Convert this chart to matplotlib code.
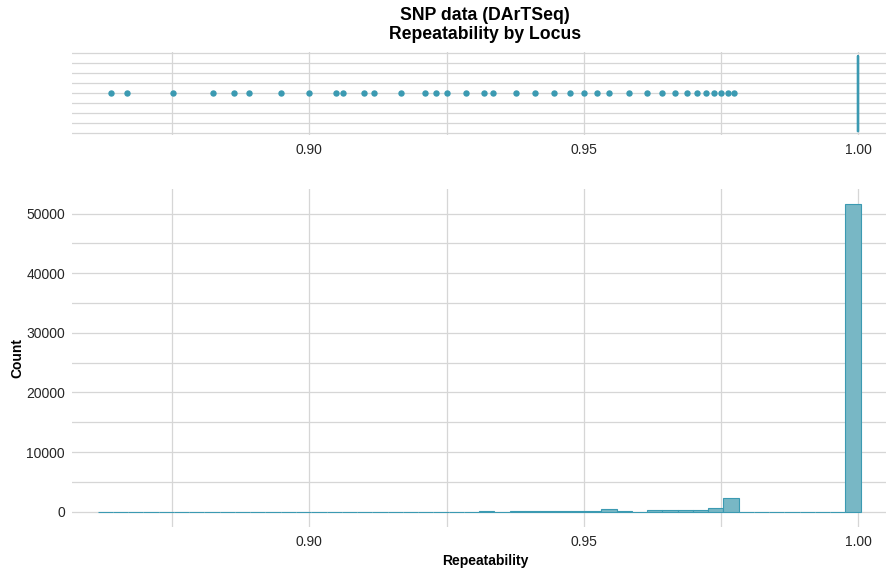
import matplotlib
matplotlib.use("Agg")
import matplotlib.pyplot as plt
import numpy as np

plt.rcParams["font.family"] = ["Liberation Sans", "DejaVu Sans"]

W, H, DPI = 887, 572, 100

# Loci falling outside the whiskers of the repeatability box plot
outlier_values = [
    0.8638, 0.8668, 0.8752, 0.8825, 0.8863, 0.8890, 0.8948, 0.9000,
    0.9048, 0.9062, 0.9100, 0.9117, 0.9167, 0.9211, 0.9231, 0.9250,
    0.9285, 0.9318, 0.9334, 0.9376, 0.9412, 0.9445, 0.9475, 0.9500,
    0.9524, 0.9546, 0.9583, 0.9616, 0.9643, 0.9667, 0.9688, 0.9706,
    0.9722, 0.9738, 0.9750, 0.9762, 0.9774,
]
# Quartiles, median and whiskers all sit at 1.00
box_median = 1.00
box_q1 = 1.00
box_q3 = 1.00
box_whislo = 1.00
box_whishi = 1.00

# Histogram of repeatability (50 bins)
bin_low = 0.86144
bin_high = 1.00044
bin_counts = [
    3, 4, 0, 0, 10, 0, 0, 3, 5, 6,
    0, 0, 8, 12, 0, 8, 9, 10, 10, 12,
    0, 14, 20, 0, 18, 170, 0, 30, 35, 170,
    30, 120, 130, 520, 30, 0, 200, 210, 230, 350,
    560, 2340, 0, 0, 0, 0, 0, 0, 0, 51550,
]

x_major = [0.90, 0.95, 1.00]
x_minor = [0.875, 0.925, 0.975]
x_labels = ["0.90", "0.95", "1.00"]
y_major = [0, 10000, 20000, 30000, 40000, 50000]
y_minor = [5000, 15000, 25000, 35000, 45000]

LINE = "#3B9AB2"
FILL = "#78B7C5"
GRID = "#D6D6D6"
TEXT = "#262626"

x_lim = (0.85678, 1.00723)
PANEL_L, PANEL_R = 72, 898


def px_axes(fig, left, top, right, bottom):
    return fig.add_axes([left / W, 1 - bottom / H, (right - left) / W, (bottom - top) / H])


def style(ax):
    for s in ax.spines.values():
        s.set_visible(False)
    ax.set_facecolor("white")
    ax.set_axisbelow(True)
    ax.grid(True, which="both", color=GRID, linewidth=0.9)
    ax.tick_params(which="both", length=0, labelsize=10, labelcolor=TEXT)
    ax.set_xlim(*x_lim)
    ax.set_xticks(x_major)
    ax.set_xticklabels(x_labels)
    ax.set_xticks(x_minor, minor=True)


fig = plt.figure(figsize=(W / DPI, H / DPI), dpi=DPI)
fig.patch.set_facecolor("white")

# Box plot panel
ax1 = px_axes(fig, PANEL_L, 52, PANEL_R, 134.5)
stats = [dict(med=box_median, q1=box_q1, q3=box_q3,
              whislo=box_whislo, whishi=box_whishi, fliers=outlier_values)]
ax1.bxp(stats, positions=[0], widths=0.75, orientation="horizontal",
        showcaps=False, manage_ticks=False,
        boxprops=dict(color=LINE, linewidth=1.6),
        medianprops=dict(color=LINE, linewidth=1.6),
        whiskerprops=dict(color=LINE, linewidth=1.0),
        flierprops=dict(marker="o", markerfacecolor=LINE, markeredgecolor=LINE,
                        markersize=3.6, linestyle="none"))
style(ax1)
ax1.set_ylim(-0.4125, 0.4125)
ax1.set_yticks(np.arange(-0.4, 0.41, 0.2))
ax1.set_yticks(np.arange(-0.3, 0.31, 0.2), minor=True)
ax1.set_yticklabels([])
ax1.tick_params(axis="x", pad=6)

# Histogram panel
ax2 = px_axes(fig, PANEL_L, 189, PANEL_R, 527)
edges = np.linspace(bin_low, bin_high, len(bin_counts) + 1)
centers = (edges[:-1] + edges[1:]) / 2
ax2.hist(centers, bins=edges, weights=bin_counts,
         facecolor=FILL, edgecolor=LINE, linewidth=0.8)
style(ax2)
ax2.set_ylim(-2578, 54133)
ax2.set_yticks(y_major)
ax2.set_yticks(y_minor, minor=True)
ax2.tick_params(axis="x", pad=6)
ax2.tick_params(axis="y", pad=5)
ax2.set_xlabel("Repeatability", fontsize=10, fontweight="bold", color="black", labelpad=3)
ax2.set_ylabel("Count", fontsize=10, fontweight="bold", color="black", labelpad=0)
ax2.yaxis.set_label_coords((24 - PANEL_L) / (PANEL_R - PANEL_L), 0.5)

fig.text(485 / W, 1 - 25 / H, "SNP data (DArTSeq)\nRepeatability by Locus",
         ha="center", va="center", fontsize=12.7, fontweight="bold",
         color="black", linespacing=1.15)

fig.savefig("out.png", dpi=DPI, facecolor="white")
